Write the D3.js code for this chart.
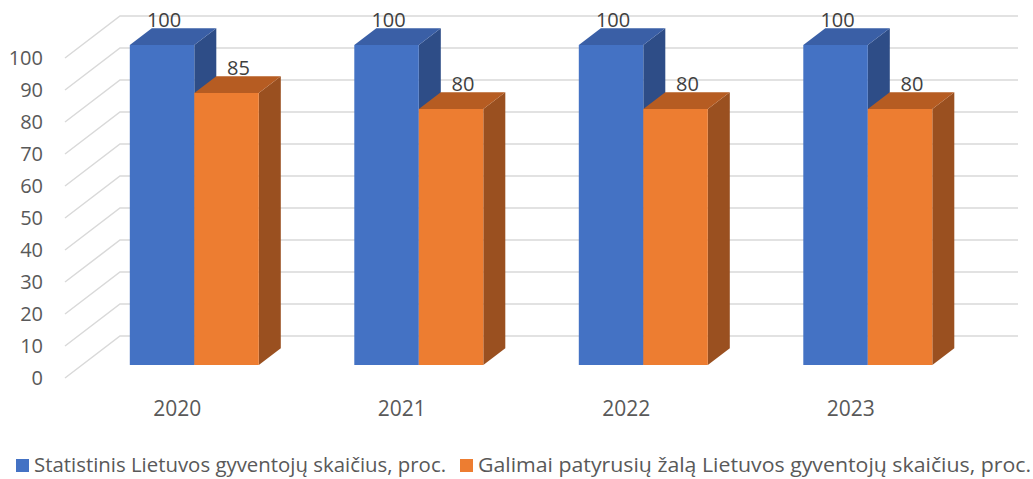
<!DOCTYPE html>
<html>
<head>
<meta charset="utf-8">
<script src="https://d3js.org/d3.v7.min.js"></script>
<style>
  body { margin: 0; background: #fff; }
  svg text { font-family: 'Open Sans', 'Noto Sans', sans-serif; fill: #595959; }
</style>
</head>
<body>
<script>
// chart data
const years = ['2020', '2021', '2022', '2023'];
const seriesNames = [
  'Statistinis Lietuvos gyventojų skaičius, proc.',
  'Galimai patyrusių žalą Lietuvos gyventojų skaičius, proc.'
];
const statValues = [100, 100, 100, 100];
const harmValues = [85, 80, 80, 80];
const yTicks = [0, 10, 20, 30, 40, 50, 60, 70, 80, 90, 100];

const width = 1033, height = 479;

// colours: front, top, side
const palette = [
  { front: '#4472C4', top: '#3A5FA6', side: '#2E4D87' },
  { front: '#ED7D31', top: '#B65C22', side: '#9A5020' }
];

const svg = d3.select('body').append('svg')
  .attr('width', width)
  .attr('height', height);

// front plane scales + depth offset for the 3D look
const x = d3.scaleBand().domain(years).range([65, 963]);
const inner = d3.scaleBand().domain([0, 1]).range([47.75, 176.75]);
const y = d3.scaleLinear().domain([0, 100]).range([378, 58]);
const depth = { dx: 55, dy: -42 };
const zFront = 0.31, zBack = 0.71;

function proj(px, py, z) {
  return [px + depth.dx * z, py + depth.dy * z];
}

// gridlines: left wall diagonal then back wall horizontal
const line = d3.line();
svg.append('g')
  .selectAll('path')
  .data(yTicks)
  .enter().append('path')
  .attr('d', t => line([
    proj(x.range()[0], y(t), 0),
    proj(x.range()[0], y(t), 1),
    proj(x.range()[1], y(t), 1)
  ]))
  .attr('fill', 'none')
  .attr('stroke', '#D9D9D9')
  .attr('stroke-width', 1.5);

// y tick labels
svg.append('g')
  .selectAll('text')
  .data(yTicks)
  .enter().append('text')
  .attr('x', 43)
  .attr('y', t => y(t))
  .attr('dy', '0.36em')
  .attr('text-anchor', 'end')
  .style('font-size', '20px')
  .text(t => t);

// bars
const bars = [];
years.forEach((yr, i) => {
  [statValues[i], harmValues[i]].forEach((v, s) => {
    bars.push({ year: yr, s: s, value: v });
  });
});

const barG = svg.append('g');
bars.forEach(d => {
  const x0 = x(d.year) + inner(d.s);
  const x1 = x0 + inner.bandwidth();
  const yb = y(0), yt = y(d.value);
  const c = palette[d.s];

  const front = [proj(x0, yt, zFront), proj(x1, yt, zFront), proj(x1, yb, zFront), proj(x0, yb, zFront)];
  const top = [proj(x0, yt, zFront), proj(x0, yt, zBack), proj(x1, yt, zBack), proj(x1, yt, zFront)];
  const side = [proj(x1, yt, zFront), proj(x1, yt, zBack), proj(x1, yb, zBack), proj(x1, yb, zFront)];

  barG.append('path').attr('d', line(side) + 'Z').attr('fill', c.side);
  barG.append('path').attr('d', line(top) + 'Z').attr('fill', c.top);
  barG.append('path').attr('d', line(front) + 'Z').attr('fill', c.front);
});

// data labels
svg.append('g')
  .selectAll('text')
  .data(bars)
  .enter().append('text')
  .attr('x', d => x(d.year) + inner(d.s) + inner.bandwidth() / 2 + depth.dx * zFront + (d.s === 0 ? 2 : 12))
  .attr('y', d => proj(0, y(d.value), zBack)[1] - 1)
  .attr('text-anchor', 'middle')
  .style('font-size', '20px')
  .style('fill', '#404040')
  .text(d => d.value);

// category labels
svg.append('g')
  .selectAll('text')
  .data(years)
  .enter().append('text')
  .attr('x', d => x(d) + x.bandwidth() / 2)
  .attr('y', 416)
  .attr('text-anchor', 'middle')
  .style('font-size', '21px')
  .text(d => d);

// legend
const legendX = [16, 460];
const legendLen = [412, 553];
const legend = svg.append('g')
  .selectAll('g')
  .data(seriesNames)
  .enter().append('g')
  .attr('transform', (d, i) => `translate(${legendX[i]},459)`);

legend.append('rect')
  .attr('width', 13)
  .attr('height', 13)
  .attr('fill', (d, i) => palette[i].front);

legend.append('text')
  .attr('x', 18)
  .attr('y', 13)
  .attr('textLength', (d, i) => legendLen[i])
  .attr('lengthAdjust', 'spacingAndGlyphs')
  .style('font-size', '20px')
  .text(d => d);
</script>
</body>
</html>
